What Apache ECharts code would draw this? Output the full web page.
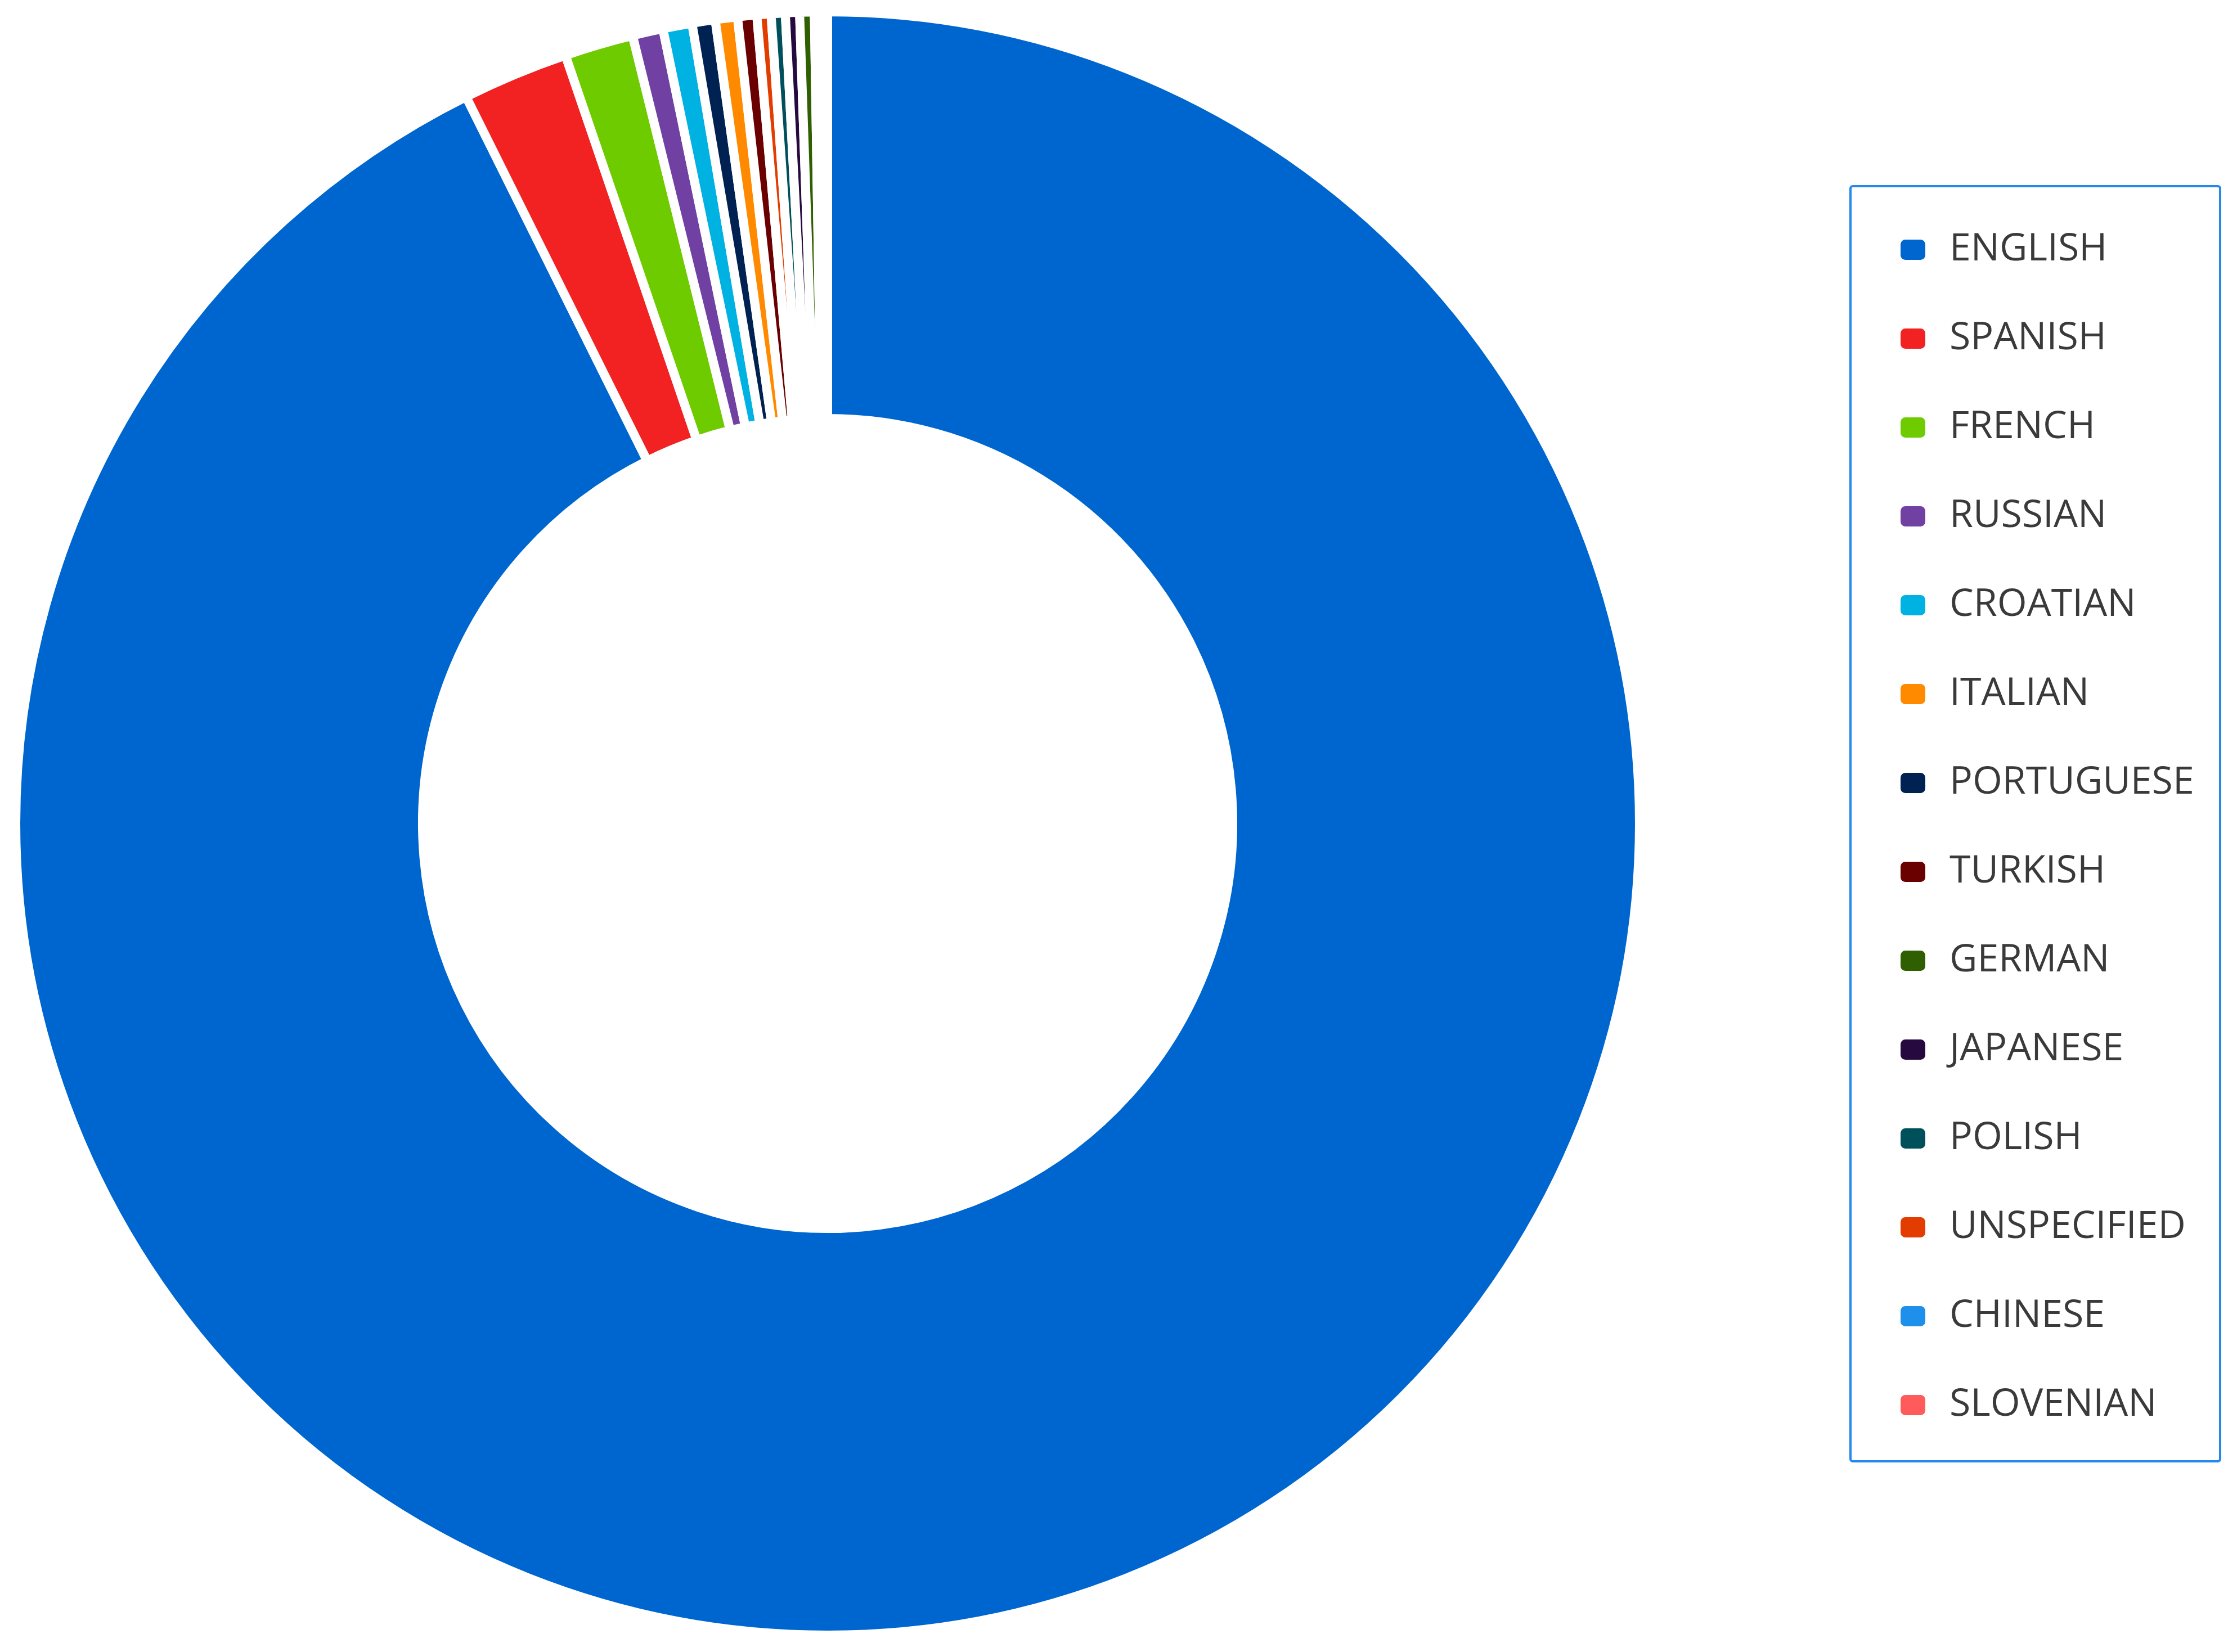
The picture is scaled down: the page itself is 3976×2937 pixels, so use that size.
<!DOCTYPE html>
<html>
<head>
<meta charset="utf-8">
<script src="https://cdn.jsdelivr.net/npm/echarts@6/dist/echarts.min.js"></script>
<style>
html,body{margin:0;padding:0;background:#fff;}
#chart{width:3976px;height:2937px;}
</style>
</head>
<body>
<div id="chart"></div>
<script>
// Slices in drawing order (clockwise from top)
const sliceNames = ['ENGLISH','SPANISH','FRENCH','RUSSIAN','CROATIAN','PORTUGUESE','ITALIAN','TURKISH','UNSPECIFIED','POLISH','JAPANESE','GERMAN','CHINESE','SLOVENIAN'];
const sliceValues = [92.59, 2.11, 1.37, 0.61, 0.58, 0.46, 0.44, 0.38, 0.28, 0.28, 0.28, 0.29, 0.14, 0.12];
// Legend order
const legendNames = ['ENGLISH','SPANISH','FRENCH','RUSSIAN','CROATIAN','ITALIAN','PORTUGUESE','TURKISH','GERMAN','JAPANESE','POLISH','UNSPECIFIED','CHINESE','SLOVENIAN'];
const colorMap = {
  ENGLISH:'#0066CF', SPANISH:'#F22222', FRENCH:'#6ECB00', RUSSIAN:'#7040A3',
  CROATIAN:'#00B2E2', ITALIAN:'#FF8A00', PORTUGUESE:'#002252', TURKISH:'#6B0000',
  GERMAN:'#2F5F00', JAPANESE:'#26093F', POLISH:'#00505C', UNSPECIFIED:'#E23C00',
  CHINESE:'#1E8FEA', SLOVENIAN:'#FF5B5B'
};

const chart = echarts.init(document.getElementById('chart'), null, {renderer:'canvas'});
const data = sliceNames.map((n,i)=>({name:n, value:sliceValues[i], itemStyle:{color:colorMap[n]}}));

chart.setOption({
  animation:false,
  backgroundColor:'#ffffff',
  graphic:[{
    type:'rect',
    shape:{x:3289, y:331, width:657, height:2267, r:4},
    style:{fill:'none', stroke:'#2489EC', lineWidth:4},
    z:-1
  }],
  legend:{
    orient:'vertical',
    left:3376, top:404,
    padding:0,
    data:legendNames,
    itemWidth:46, itemHeight:38,
    itemGap:78,
    selectedMode:false,
    icon:'roundRect',
    textStyle:{fontFamily:'Open Sans', fontSize:68, color:'#3a3a3a', lineHeight:80, padding:[0,0,0,37]}
  },
  series:[{
    type:'pie',
    center:[1471, 1464],
    radius:[720, 1443],
    startAngle:90,
    clockwise:true,
    avoidLabelOverlap:false,
    label:{show:false},
    labelLine:{show:false},
    emphasis:{disabled:true},
    itemStyle:{borderColor:'#ffffff', borderWidth:16},
    data:data
  }]
});
</script>
</body>
</html>
